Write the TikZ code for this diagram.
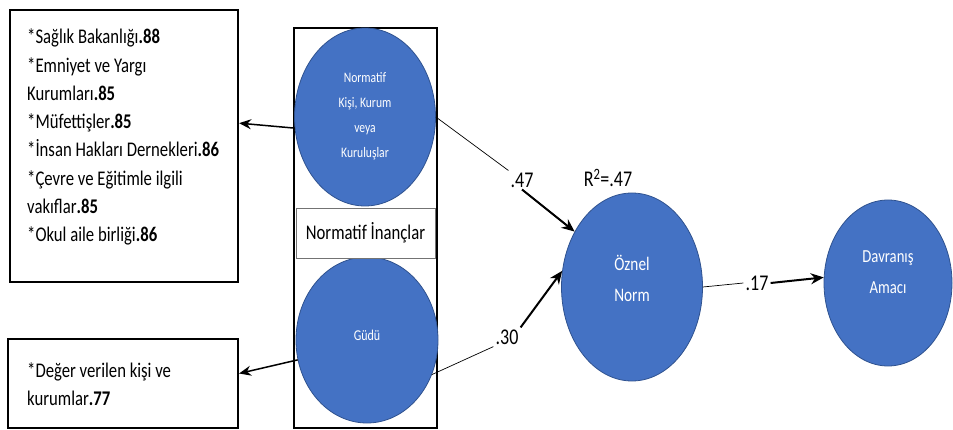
\documentclass[tikz,border=0pt]{standalone}
\usepackage{fontspec}
\usepackage{graphicx}
\setmainfont{Carlito}
\usetikzlibrary{shapes.geometric,arrows.meta}
\definecolor{ellfill}{HTML}{4472C4}
\definecolor{elldraw}{HTML}{2F528F}
\newcommand{\vst}[1]{\scalebox{1}[1.25]{#1}}
\begin{document}
\begin{tikzpicture}[x=1pt,y=-1pt,
  ell/.style={ellipse,fill=ellfill,draw=elldraw,line width=0.8pt,inner sep=0pt},
  frame/.style={draw=black,line width=2.2pt,inner sep=0pt},
  boxtext/.style={font=\fontsize{16.7}{22.6}\selectfont,inner sep=0pt},
  elltext/.style={text=white,inner sep=0pt},
  coef/.style={font=\fontsize{18}{20}\selectfont,inner sep=2pt},
  thinline/.style={line width=0.7pt},
  arr/.style={line width=2pt,-{Stealth[length=13pt,width=11pt]}},
  arrs/.style={line width=1.5pt,-{Stealth[length=12pt,width=10pt]}}]
\useasboundingbox (0,0) rectangle (953,430);

% left boxes
\node[frame,minimum width=228pt,minimum height=272pt] (box1) at (124,146) {};
\node[boxtext,anchor=west] (box1t) at (27,137) {\vst{\begin{tabular}{@{}l@{}}
*Sağlık Bakanlığı\textbf{.88}\\
{}*Emniyet ve Yargı\\
Kurumları\textbf{.85}\\
{}*Müfettişler\textbf{.85}\\
{}*İnsan Hakları Dernekleri\textbf{.86}\\
{}*Çevre ve Eğitimle ilgili\\
vakıflar\textbf{.85}\\
{}*Okul aile birliği\textbf{.86}
\end{tabular}}};
\node[frame,minimum width=230pt,minimum height=89pt] (box2) at (123,383.5) {};
\node[boxtext,anchor=west] (box2t) at (27,386) {\vst{\begin{tabular}{@{}l@{}}
*Değer verilen kişi ve\\
kurumlar\textbf{.77}
\end{tabular}}};

% tall frame
\node[draw=black,line width=1.8pt,minimum width=143pt,minimum height=400pt,inner sep=0pt] (tall) at (365.5,228) {};
\node[ell,minimum width=141pt,minimum height=178pt] (e1) at (365,117) {};
\node[elltext,font=\fontsize{11.6}{20}\selectfont] (e1t) at (365,115) {\vst{\begin{tabular}{@{}c@{}}Normatif\\Kişi, Kurum\\veya\\Kuruluşlar\end{tabular}}};
\node[ell,minimum width=142pt,minimum height=166pt] (e2) at (367,340) {};
\node[elltext,font=\fontsize{12}{20}\selectfont] (e2t) at (367,335) {\vst{Güdü}};
\node[draw=black!55,fill=white,line width=0.6pt,minimum width=139pt,minimum height=50pt,inner sep=0pt,
      font=\fontsize{16.7}{18}\selectfont] (ni) at (365.5,233) {\vst{Normatif İnançlar}};

% right ellipses
\node[ell,minimum width=141pt,minimum height=188pt] (oz) at (632,287) {};
\node[elltext,font=\fontsize{15.3}{24}\selectfont] (ozt) at (632,280) {\vst{\begin{tabular}{@{}c@{}}Öznel\\Norm\end{tabular}}};
\node[ell,minimum width=128pt,minimum height=166pt] (da) at (888,283) {};
\node[elltext,font=\fontsize{14.7}{24}\selectfont] (dat) at (888,272) {\vst{\begin{tabular}{@{}c@{}}Davranış\\Amacı\end{tabular}}};

% coefficient labels
\node[coef] (l47) at (522,180) {\vst{.47}};
\node[coef] (l30) at (507,337) {\vst{.30}};
\node[coef] (l17) at (757,283) {\vst{.17}};
\node[coef] (r2) at (608,178) {\vst{R\textsuperscript{2}=.47}};

% connectors
\draw[thinline] (e1.east) -- (l47.north west);
\draw[arr] (l47.south) -- (oz.136);
\draw[thinline] (e2.-28) -- (l30.south west);
\draw[arr] (l30.north east) -- (oz.167);
\draw[thinline] (oz.east) -- (l17.west);
\draw[arr] (l17.east) -- (da.175);
\draw[arrs] (e1.189) -- ([yshift=5pt]box1.east |- e1.189);
\draw[arrs] (e2.196) -- ([yshift=10pt]box2.east);
\end{tikzpicture}
\end{document}
